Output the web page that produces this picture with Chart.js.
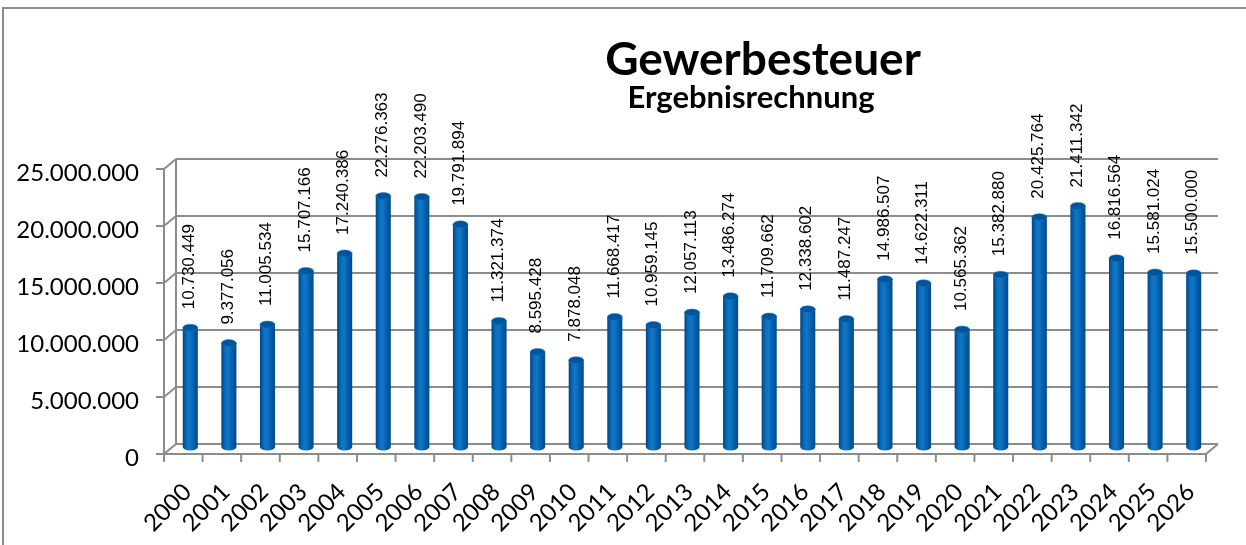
<!DOCTYPE html>
<html>
<head>
<meta charset="utf-8">
<script src="https://cdn.jsdelivr.net/npm/chart.js@4.4.1/dist/chart.umd.min.js"></script>
<style>
  html, body { margin: 0; padding: 0; background: #fff; overflow: hidden; }
  #wrap { position: relative; width: 1246px; height: 545px; }
  #frame { position: absolute; left: 2px; top: 7px; width: 1300px; height: 600px;
           border-top: 2px solid #8a8a8a; border-left: 2px solid #8a8a8a; }
  canvas { position: absolute; left: 0; top: 0; }
</style>
</head>
<body>
<div id="wrap">
  <div id="frame"></div>
  <canvas id="barChart" width="1246" height="545"></canvas>
</div>
<script>
// Gewerbesteuer - Ergebnisrechnung
var years = ["2000", "2001", "2002", "2003", "2004", "2005", "2006", "2007", "2008", "2009",
             "2010", "2011", "2012", "2013", "2014", "2015", "2016", "2017", "2018", "2019",
             "2020", "2021", "2022", "2023", "2024", "2025", "2026"];
var gewerbesteuer = [10730449, 9377056, 11005534, 15707166, 17240386, 22276363, 22203490, 19791894,
                     11321374, 8595428, 7878048, 11668417, 10959145, 12057113, 13486274, 11709662,
                     12338602, 11487247, 14986507, 14622311, 10565362, 15382880, 20425764, 21411342,
                     16816564, 15581024, 15500000];
var yTicks = [0, 5000000, 10000000, 15000000, 20000000, 25000000];

var titleText = "Gewerbesteuer";
var subtitleText = "Ergebnisrechnung";

function fmt(v) {
    return String(v).replace(/\B(?=(\d{3})+(?!\d))/g, ".");
}

// depth offsets of the pseudo 3D box relative to the bar plane
var back = { dx: 5, dy: -6 };
var front = { dx: -7, dy: 4 };
var gridColor = "#8c8c8c";

var box3d = {
    id: "box3d",
    beforeDatasetsDraw: function (chart) {
        var ctx = chart.ctx, area = chart.chartArea;
        var y = chart.scales.y, x = chart.scales.x;
        ctx.save();
        ctx.strokeStyle = gridColor;
        ctx.lineWidth = 2;
        ctx.beginPath();
        yTicks.forEach(function (t) {
            var py = y.getPixelForValue(t);
            // back wall line
            ctx.moveTo(area.left + back.dx, py + back.dy);
            ctx.lineTo(area.right + back.dx, py + back.dy);
            // side wall diagonal
            ctx.moveTo(area.left + back.dx, py + back.dy);
            ctx.lineTo(area.left + front.dx, py + front.dy);
            // tick mark
            ctx.moveTo(area.left + front.dx, py + front.dy);
            ctx.lineTo(area.left + front.dx - 8, py + front.dy);
        });
        var top = y.getPixelForValue(yTicks[yTicks.length - 1]);
        var zero = y.getPixelForValue(0);
        // back and front verticals on the left
        ctx.moveTo(area.left + back.dx, top + back.dy);
        ctx.lineTo(area.left + back.dx, zero + back.dy);
        ctx.moveTo(area.left + front.dx, top + front.dy);
        ctx.lineTo(area.left + front.dx, zero + front.dy);
        // front floor edge and right diagonal
        ctx.moveTo(area.left + front.dx, zero + front.dy);
        ctx.lineTo(area.right + front.dx, zero + front.dy);
        ctx.lineTo(area.right + back.dx, zero + back.dy);
        // category ticks on front edge
        var step = x.getPixelForValue(1) - x.getPixelForValue(0);
        for (var i = 0; i <= years.length; i++) {
            var px = x.getPixelForValue(0) - step / 2 + i * step + front.dx;
            ctx.moveTo(px, zero + front.dy);
            ctx.lineTo(px, zero + front.dy + 8);
        }
        ctx.stroke();
        ctx.restore();
    },
    afterDatasetsDraw: function (chart) {
        var ctx = chart.ctx;
        var meta = chart.getDatasetMeta(0);
        var y = chart.scales.y;
        ctx.save();
        meta.data.forEach(function (bar, i) {
            var w = bar.width, l = bar.x - w / 2, r = bar.x + w / 2;
            var ry = 3.5;
            var bottom = bar.base - 3;
            var g = ctx.createLinearGradient(l, 0, r, 0);
            g.addColorStop(0, "#00447f");
            g.addColorStop(0.25, "#0b6cbd");
            g.addColorStop(0.45, "#1177c8");
            g.addColorStop(0.75, "#005ea9");
            g.addColorStop(1, "#00488a");
            ctx.fillStyle = g;
            ctx.beginPath();
            ctx.moveTo(l, bar.y);
            ctx.lineTo(l, bottom);
            ctx.ellipse(bar.x, bottom, w / 2, ry, 0, Math.PI, 0, true);
            ctx.lineTo(r, bar.y);
            ctx.closePath();
            ctx.fill();
            // top cap
            ctx.fillStyle = "#00549c";
            ctx.beginPath();
            ctx.ellipse(bar.x, bar.y, w / 2, ry, 0, 0, Math.PI * 2);
            ctx.fill();
            ctx.strokeStyle = "rgba(30,120,200,0.6)";
            ctx.lineWidth = 0.8;
            ctx.stroke();

            // value label, rotated
            ctx.save();
            ctx.translate(bar.x - 1, bar.y - ry - 15);
            ctx.rotate(-Math.PI / 2);
            ctx.fillStyle = "#000";
            ctx.font = "17px 'Liberation Sans', Arial, sans-serif";
            ctx.textAlign = "left";
            ctx.textBaseline = "middle";
            ctx.fillText(fmt(gewerbesteuer[i]), 0, 0);
            ctx.restore();

            // category label, rotated 45 degrees
            ctx.save();
            ctx.translate(bar.x - 3, 488);
            ctx.rotate(-Math.PI / 4);
            ctx.fillStyle = "#000";
            ctx.font = "24px Lato, sans-serif";
            ctx.textAlign = "right";
            ctx.textBaseline = "middle";
            ctx.fillText(years[i], 0, 0);
            ctx.restore();
        });

        // y axis labels on the front edge
        ctx.fillStyle = "#000";
        ctx.font = "24px Lato, sans-serif";
        ctx.textAlign = "right";
        ctx.textBaseline = "middle";
        yTicks.forEach(function (t) {
            ctx.fillText(fmt(t), 139, y.getPixelForValue(t) + front.dy + 4);
        });

        // titles
        ctx.textAlign = "center";
        ctx.textBaseline = "alphabetic";
        ctx.font = "bold 46px Lato, sans-serif";
        ctx.fillText(titleText, 763, 75);
        ctx.font = "bold 31px Lato, sans-serif";
        ctx.fillText(subtitleText, 751, 108);
        ctx.restore();
    }
};

document.addEventListener("DOMContentLoaded", function () {
    var ctx = document.getElementById("barChart").getContext("2d");

    var barChart = new Chart(ctx, {
        type: "bar",
        data: {
            labels: years,
            datasets: [
                {
                    label: "Gewerbesteuer",
                    data: gewerbesteuer,
                    backgroundColor: "rgba(0,0,0,0)",
                    borderWidth: 0,
                    categoryPercentage: 1,
                    barPercentage: 0.39,
                },
            ],
        },
        options: {
            responsive: false,
            animation: false,
            devicePixelRatio: 1,
            layout: {
                padding: { left: 171, right: 33, top: 165, bottom: 95 },
            },
            scales: {
                x: { display: false, offset: true },
                y: { display: false, min: 0, max: 25000000 },
            },
            plugins: {
                legend: { display: false },
                tooltip: { enabled: false },
            },
        },
        plugins: [box3d],
    });
});
</script>
</body>
</html>
